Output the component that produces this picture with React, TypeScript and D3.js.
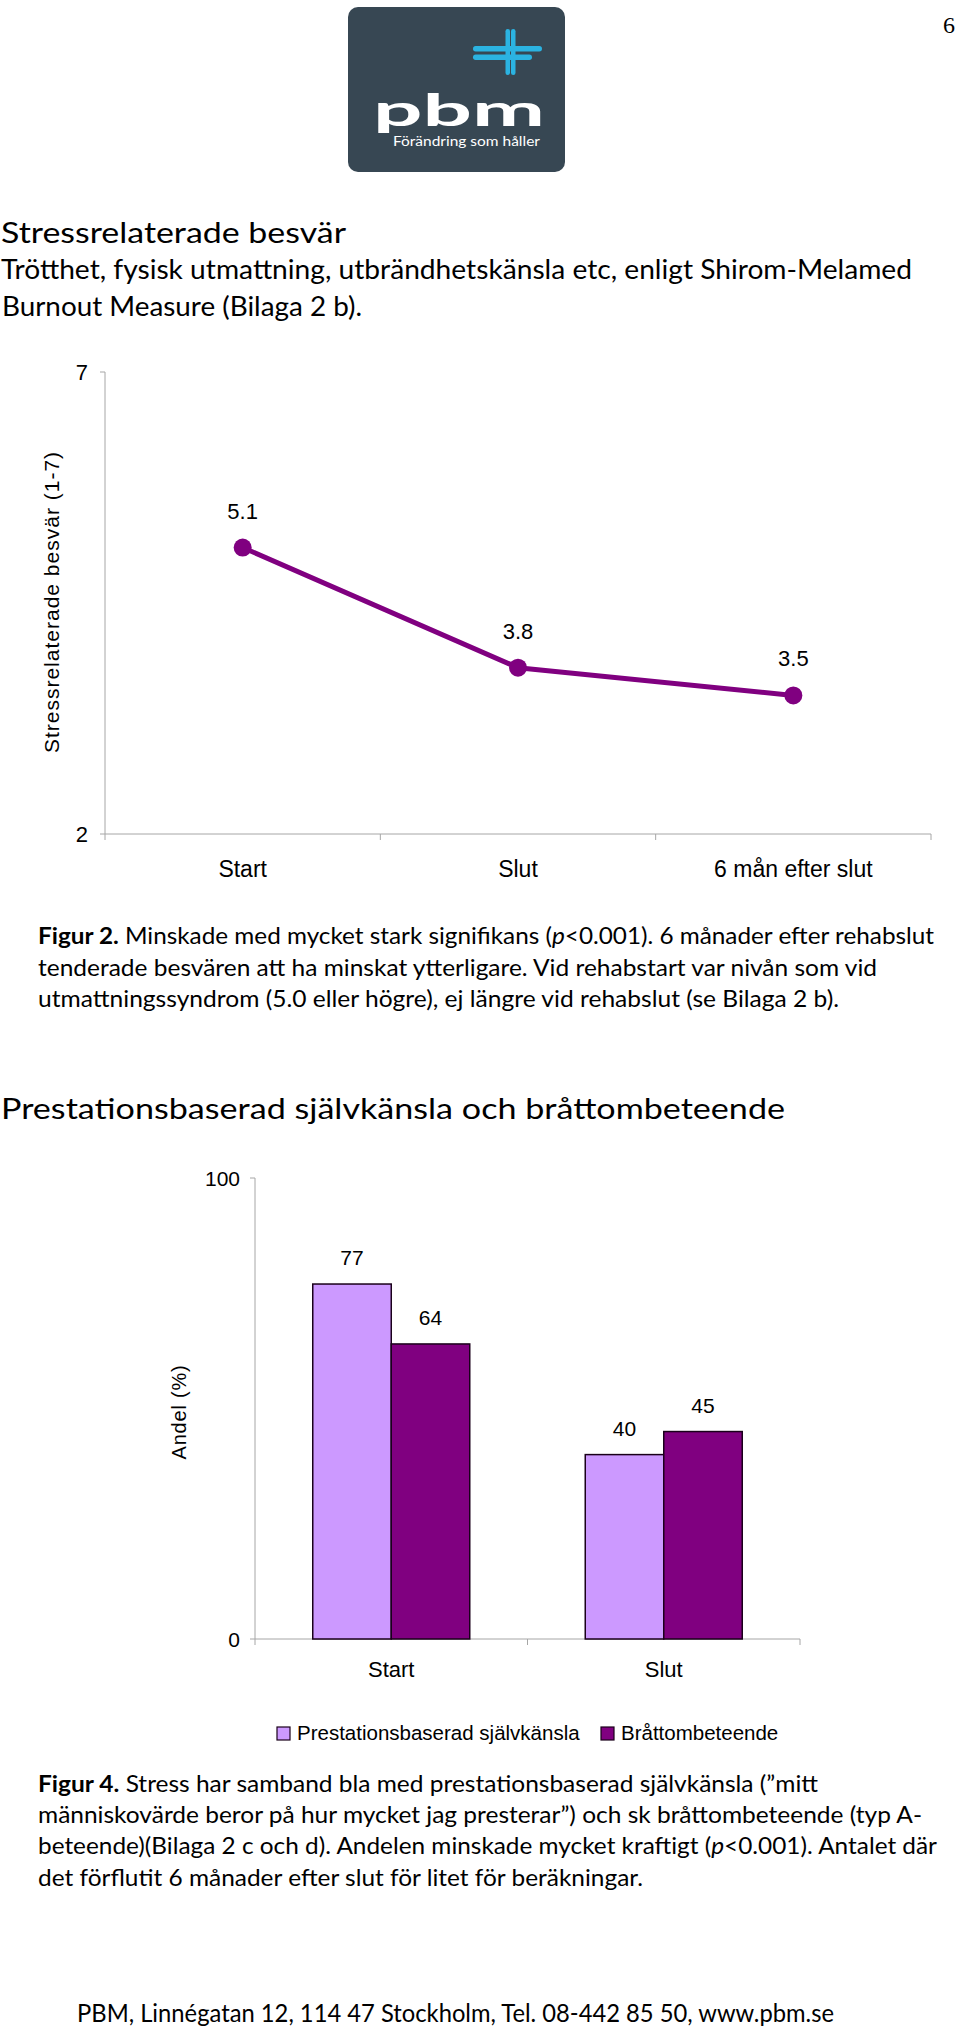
import React from "react";
import * as d3 from "d3";

// ---------- data ----------
const lineCategories = ["Start", "Slut", "6 mån efter slut"];
const lineValues = [5.1, 3.8, 3.5];
const lineYTicks = [2, 7];
const lineYTitle = "Stressrelaterade besvär (1-7)";

const barCategories = ["Start", "Slut"];
const barSeries = ["Prestationsbaserad självkänsla", "Bråttombeteende"];
const selfEsteemValues = [77, 40];
const hurryValues = [64, 45];
const barYTicks = [0, 100];
const barYTitle = "Andel (%)";
const barColors = ["#cc99ff", "#800080"];

const ARIAL = "'Liberation Sans', Arial, sans-serif";
const BODY = "Lato, 'Open Sans', sans-serif";

type Line = { x: number; y: number; w: number; parts: { t: string; b?: boolean; i?: boolean }[]; size: number; weight?: number };

const textLines: Line[] = [
  { x: 1, y: 243, w: 345, size: 29, weight: 400, parts: [{ t: "Stressrelaterade besvär" }] },
  { x: 1, y: 279, w: 911, size: 26, parts: [{ t: "Trötthet, fysisk utmattning, utbrändhetskänsla etc, enligt Shirom-Melamed" }] },
  { x: 2, y: 316, w: 360, size: 26, parts: [{ t: "Burnout Measure (Bilaga 2 b)." }] },
  { x: 38, y: 944, w: 896, size: 23.5, parts: [{ t: "Figur 2.", b: true }, { t: " Minskade med mycket stark signifikans (" }, { t: "p", i: true }, { t: "<0.001). 6 månader efter rehabslut" }] },
  { x: 38, y: 976, w: 839, size: 23.5, parts: [{ t: "tenderade besvären att ha minskat ytterligare. Vid rehabstart var nivån som vid" }] },
  { x: 38, y: 1007, w: 801, size: 23.5, parts: [{ t: "utmattningssyndrom (5.0 eller högre), ej längre vid rehabslut (se Bilaga 2 b)." }] },
  { x: 1, y: 1119, w: 784, size: 29, weight: 400, parts: [{ t: "Prestationsbaserad självkänsla och bråttombeteende" }] },
  { x: 38, y: 1792, w: 780, size: 23.5, parts: [{ t: "Figur 4.", b: true }, { t: " Stress har samband bla med prestationsbaserad självkänsla (”mitt" }] },
  { x: 38, y: 1823, w: 884, size: 23.5, parts: [{ t: "människovärde beror på hur mycket jag presterar”) och sk bråttombeteende (typ A-" }] },
  { x: 38, y: 1854, w: 899, size: 23.5, parts: [{ t: "beteende)(Bilaga 2 c och d). Andelen minskade mycket kraftigt (" }, { t: "p", i: true }, { t: "<0.001). Antalet där" }] },
  { x: 38, y: 1886, w: 605, size: 23.5, parts: [{ t: "det förflutit 6 månader efter slut för litet för beräkningar." }] },
  { x: 77, y: 2022, w: 757, size: 25, parts: [{ t: "PBM, Linnégatan 12, 114 47 Stockholm, Tel. 08-442 85 50, www.pbm.se" }] },
];

export default function App() {
  // line chart scales
  const lx = d3.scaleBand<string>().domain(lineCategories).range([105, 931]);
  const ly = d3.scaleLinear().domain([2, 7]).range([834, 372]);
  const lcx = (c: string) => (lx(c) as number) + lx.bandwidth() / 2;
  const pts = lineCategories.map((c, i) => [lcx(c), ly(lineValues[i])] as [number, number]);
  const linePath = d3.line()(pts) as string;
  const lxTicks = [105, ...lineCategories.map((c) => (lx(c) as number) + lx.bandwidth())];

  // bar chart scales
  const bx0 = d3.scaleBand<string>().domain(barCategories).range([255, 800]);
  const groupW = 157;
  const bx1 = d3.scaleBand<string>().domain(barSeries).range([0, groupW]);
  const by = d3.scaleLinear().domain([0, 100]).range([1639, 1178]);
  const seriesValues = [selfEsteemValues, hurryValues];
  const bxTicks = [255, ...barCategories.map((c) => (bx0(c) as number) + bx0.bandwidth())];

  const axisColor = "#a6a6a6";

  return (
    <svg width={960} height={2031} style={{ position: "absolute", left: 0, top: 0, background: "#fff" }}>
      <rect x={0} y={0} width={960} height={2031} fill="#fff" />
      {/* page number */}
      <text x={943} y={33} fontFamily="'Liberation Serif', 'Times New Roman', serif" fontSize={24} fill="#000">6</text>

      {/* logo */}
      <g>
        <rect x={348} y={7} width={217} height={165} rx={10} fill="#374753" />
        <rect x={505.5} y={29} width={4.5} height={46} rx={2.2} fill="#2bb3e1" />
        <rect x={511} y={29} width={4.5} height={46} rx={2.2} fill="#2bb3e1" />
        <rect x={473} y={46} width={69} height={5.5} rx={2.7} fill="#2bb3e1" />
        <rect x={473} y={54.5} width={59} height={5.5} rx={2.7} fill="#2bb3e1" />
        <text x={373} y={126} fontFamily={BODY} fontWeight={700} fontSize={43} fill="#fff" textLength={172} lengthAdjust="spacingAndGlyphs">pbm</text>
        <text x={393} y={146} fontFamily={BODY} fontWeight={400} fontSize={12.5} fill="#fff" textLength={147} lengthAdjust="spacingAndGlyphs">Förändring som håller</text>
      </g>

      {/* body text */}
      {textLines.map((l, i) => (
        <text key={i} x={l.x} y={l.y} fontFamily={BODY} fontSize={l.size} fontWeight={l.weight ?? 400} fill="#000" textLength={l.w} lengthAdjust="spacingAndGlyphs">
          {l.parts.map((p, j) => (
            <tspan key={j} fontWeight={p.b ? 700 : undefined} fontStyle={p.i ? "italic" : undefined}>{p.t}</tspan>
          ))}
        </text>
      ))}

      {/* ---------- line chart ---------- */}
      <g fontFamily={ARIAL} fill="#000">
        <line x1={105} x2={105} y1={ly(7)} y2={ly(2)} stroke={axisColor} strokeWidth={1} />
        <line x1={105} x2={931} y1={ly(2)} y2={ly(2)} stroke={axisColor} strokeWidth={1} />
        {lineYTicks.map((t) => (
          <g key={t}>
            <line x1={100} x2={105} y1={ly(t)} y2={ly(t)} stroke={axisColor} />
            <text x={88} y={ly(t)} dy="0.36em" textAnchor="end" fontSize={22}>{t}</text>
          </g>
        ))}
        {lxTicks.map((x, i) => (
          <line key={i} x1={x} x2={x} y1={ly(2)} y2={ly(2) + 6} stroke={axisColor} />
        ))}
        {lineCategories.map((c) => (
          <text key={c} x={lcx(c)} y={877} textAnchor="middle" fontSize={23}>{c}</text>
        ))}
        <text transform={`translate(59,602) rotate(-90)`} textAnchor="middle" fontSize={21} letterSpacing={1}>{lineYTitle}</text>
        <path d={linePath} fill="none" stroke="#800080" strokeWidth={5} strokeLinejoin="round" />
        {pts.map((p, i) => (
          <g key={i}>
            <circle cx={p[0]} cy={p[1]} r={9} fill="#800080" />
            <text x={p[0]} y={p[1] - 29} textAnchor="middle" fontSize={22}>{lineValues[i].toFixed(1)}</text>
          </g>
        ))}
      </g>

      {/* ---------- bar chart ---------- */}
      <g fontFamily={ARIAL} fill="#000">
        <line x1={255} x2={255} y1={by(100)} y2={by(0)} stroke={axisColor} />
        <line x1={255} x2={800} y1={by(0)} y2={by(0)} stroke={axisColor} />
        {barYTicks.map((t) => (
          <g key={t}>
            <line x1={250} x2={255} y1={by(t)} y2={by(t)} stroke={axisColor} />
            <text x={240} y={by(t)} dy="0.36em" textAnchor="end" fontSize={21}>{t}</text>
          </g>
        ))}
        {bxTicks.map((x, i) => (
          <line key={i} x1={x} x2={x} y1={by(0)} y2={by(0) + 6} stroke={axisColor} />
        ))}
        {barCategories.map((c, ci) => {
          const gx = (bx0(c) as number) + (bx0.bandwidth() - groupW) / 2;
          return (
            <g key={c}>
              {barSeries.map((s, si) => {
                const v = seriesValues[si][ci];
                const x = gx + (bx1(s) as number);
                return (
                  <g key={s}>
                    <rect x={x} y={by(v)} width={bx1.bandwidth()} height={by(0) - by(v)} fill={barColors[si]} stroke="#1a001a" strokeWidth={1.5} />
                    <text x={x + bx1.bandwidth() / 2} y={by(v) - 19} textAnchor="middle" fontSize={21}>{v}</text>
                  </g>
                );
              })}
              <text x={(bx0(c) as number) + bx0.bandwidth() / 2} y={1677} textAnchor="middle" fontSize={22}>{c}</text>
            </g>
          );
        })}
        <text transform={`translate(186,1412) rotate(-90)`} textAnchor="middle" fontSize={20} letterSpacing={0.8}>{barYTitle}</text>
        {/* legend */}
        {barSeries.map((s, i) => {
          const lx0 = [277, 601][i];
          return (
            <g key={s}>
              <rect x={lx0} y={1727} width={13} height={13} fill={barColors[i]} stroke="#1a001a" strokeWidth={1.2} />
              <text x={lx0 + 20} y={1740} fontSize={20.5}>{s}</text>
            </g>
          );
        })}
      </g>
    </svg>
  );
}
